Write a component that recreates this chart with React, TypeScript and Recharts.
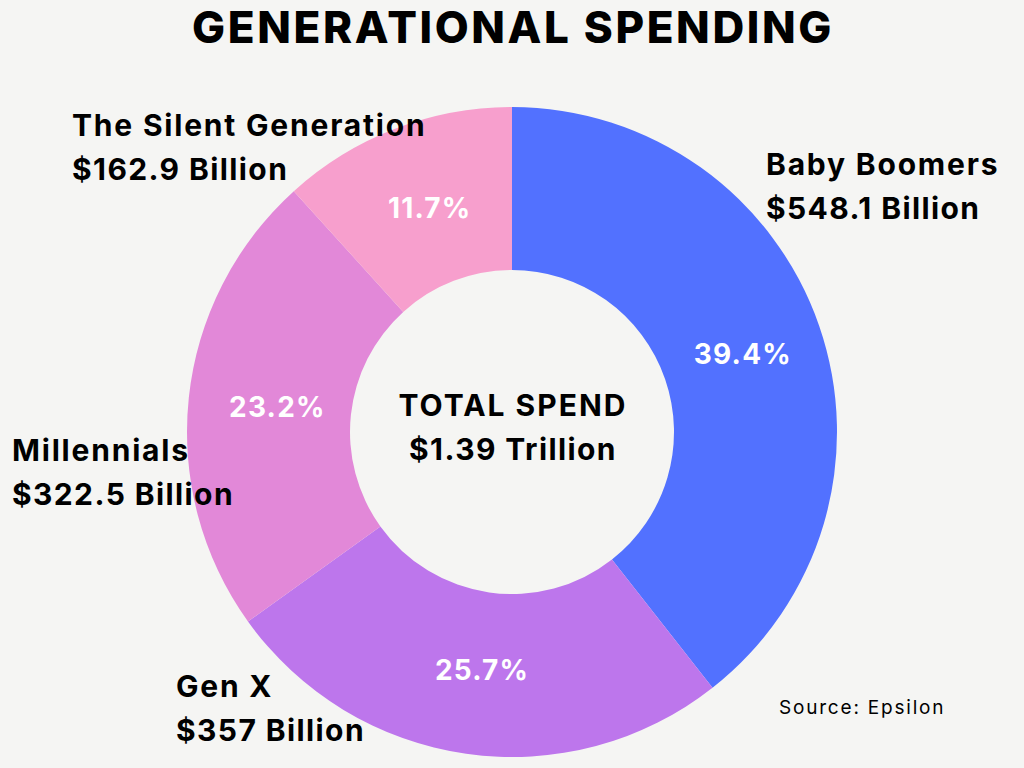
import React from "react";
import { PieChart, Pie, Cell } from "recharts";

const generations = ["Baby Boomers", "Gen X", "Millennials", "The Silent Generation"];
const spendBillions = [548.1, 357, 322.5, 162.9];
const shareLabels = ["39.4%", "25.7%", "23.2%", "11.7%"];
const amountLabels = ["$548.1 Billion", "$357 Billion", "$322.5 Billion", "$162.9 Billion"];
const colors = ["#5271FF", "#BD76EC", "#E288D8", "#F79FCD"];
const titleText = "GENERATIONAL SPENDING";
const centerLines = ["TOTAL SPEND", "$1.39 Trillion"];
const sourceText = "Source: Epsilon";

const data = generations.map((name, i) => ({
  name,
  value: spendBillions[i],
  share: shareLabels[i],
  amount: amountLabels[i],
}));

const FONT = "Inter, 'Open Sans', sans-serif";
const BG = "#F5F5F3";
const RAD = Math.PI / 180;

const renderShare = (props: any) => {
  const { cx, cy, midAngle, index } = props;
  const r = 240;
  const x = cx + r * Math.cos(-midAngle * RAD) + 4;
  const y = cy + r * Math.sin(-midAngle * RAD);
  return (
    <text
      x={x}
      y={y}
      fill="#FFFFFF"
      textAnchor="middle"
      dominantBaseline="central"
      fontFamily={FONT}
      fontWeight={700}
      fontSize={28}
      letterSpacing={1.2}
    >
      {shareLabels[index]}
    </text>
  );
};

// annotation anchors (left-aligned, first-line baseline)
const outerLabelPos = [
  { x: 766, y: 175 },
  { x: 176, y: 697 },
  { x: 12, y: 461 },
  { x: 72, y: 136 },
];

export default function App() {
  React.useEffect(() => {
    document.body.style.margin = "0";
    document.body.style.background = BG;
  }, []);
  return (
    <div
      style={{
        position: "absolute",
        left: 0,
        top: 0,
        width: 1024,
        height: 768,
        background: BG,
        overflow: "hidden",
      }}
    >
      <PieChart width={1024} height={768} margin={{ top: 0, right: 0, bottom: 0, left: 0 }}>
        <Pie
          data={data}
          dataKey="value"
          nameKey="name"
          cx={512}
          cy={432}
          innerRadius={162}
          outerRadius={325}
          startAngle={90}
          endAngle={-270}
          stroke="none"
          label={renderShare}
          labelLine={false}
          isAnimationActive={false}
        >
          {data.map((d, i) => (
            <Cell key={d.name} fill={colors[i]} />
          ))}
        </Pie>
      </PieChart>
      <svg
        width={1024}
        height={768}
        style={{ position: "absolute", left: 0, top: 0, pointerEvents: "none" }}
      >
        <text
          x={513}
          y={43}
          textAnchor="middle"
          fontFamily={FONT}
          fontWeight={800}
          fontSize={44}
          letterSpacing={2.6}
          fill="#000"
        >
          {titleText}
        </text>
        {data.map((d, i) => (
          <g key={d.name}>
            <text
              x={outerLabelPos[i].x}
              y={outerLabelPos[i].y}
              fontFamily={FONT}
              fontWeight={700}
              fontSize={30}
              letterSpacing={1.8}
              fill="#000"
            >
              {d.name}
            </text>
            <text
              x={outerLabelPos[i].x}
              y={outerLabelPos[i].y + 44}
              fontFamily={FONT}
              fontWeight={700}
              fontSize={30}
              letterSpacing={1.4}
              fill="#000"
            >
              {d.amount}
            </text>
          </g>
        ))}
        <text
          x={513}
          y={416}
          textAnchor="middle"
          fontFamily={FONT}
          fontWeight={700}
          fontSize={30}
          letterSpacing={2}
          fill="#000"
        >
          {centerLines[0]}
        </text>
        <text
          x={513}
          y={460}
          textAnchor="middle"
          fontFamily={FONT}
          fontWeight={700}
          fontSize={30}
          letterSpacing={1.4}
          fill="#000"
        >
          {centerLines[1]}
        </text>
        <text x={779} y={714} fontFamily={FONT} fontWeight={400} fontSize={19} letterSpacing={1.8} fill="#000">
          {sourceText}
        </text>
      </svg>
    </div>
  );
}
